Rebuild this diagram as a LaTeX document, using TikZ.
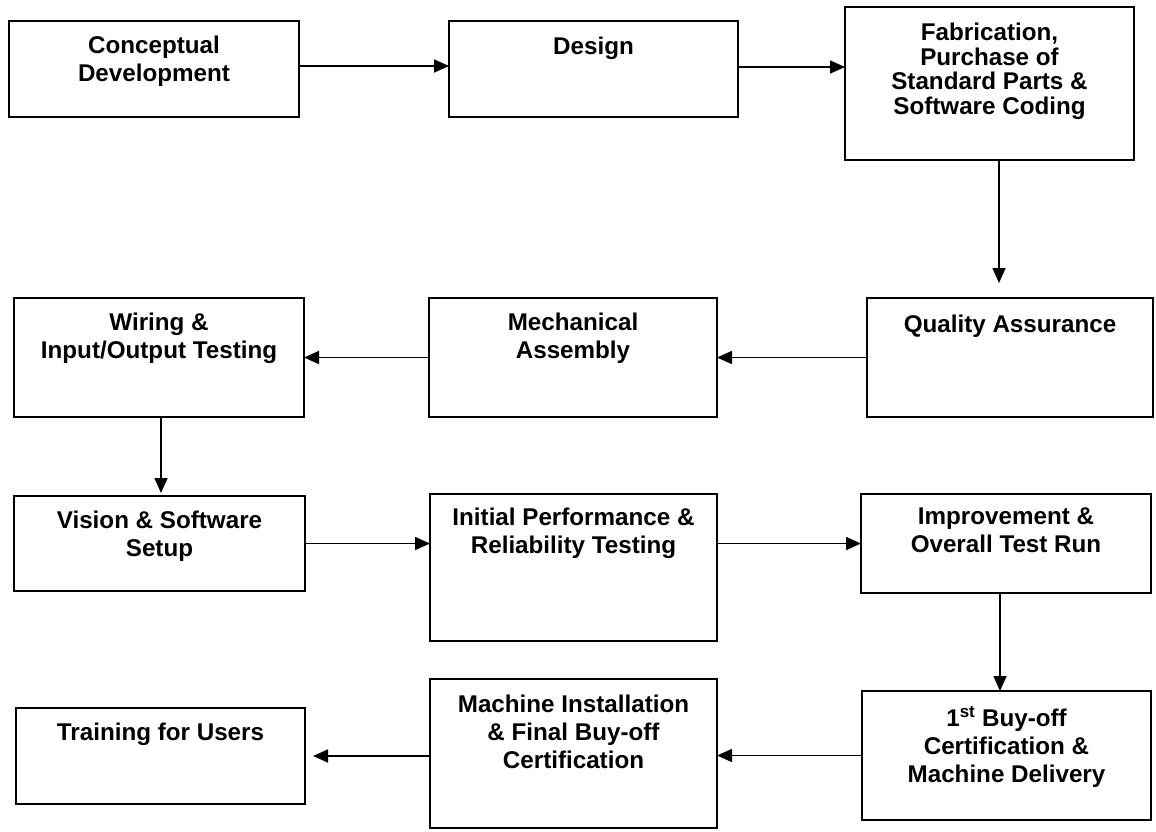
\documentclass[tikz,border=0pt]{standalone}
\usepackage{fontspec}
\setmainfont{Liberation Sans}
\usetikzlibrary{arrows.meta}

\begin{document}
\begin{tikzpicture}[x=1pt,y=1pt,
  box/.style={draw, line width=1.6pt, inner sep=0pt, outer sep=0pt, anchor=north west},
  txt/.style={anchor=north, inner sep=0pt, align=center,
    font=\bfseries\fontsize{24.2}{28}\selectfont},
  arr/.style={line width=1.6pt, -{Triangle[length=15pt,width=13pt]}}]

\useasboundingbox (0,0) rectangle (1156,-831);

% stage boxes (top-left corner, width, height)
\node[box, minimum width=290, minimum height=96]  (concept)  at (9,-21)   {};
\node[box, minimum width=289, minimum height=96]  (design)   at (449,-21) {};
\node[box, minimum width=289, minimum height=153] (fab)      at (845,-7)  {};
\node[box, minimum width=286, minimum height=119] (qa)       at (867,-298) {};
\node[box, minimum width=288, minimum height=119] (mech)     at (429,-298) {};
\node[box, minimum width=290, minimum height=119] (wiring)   at (14,-298) {};
\node[box, minimum width=291, minimum height=95]  (vision)   at (14,-496) {};
\node[box, minimum width=287, minimum height=147] (initial)  at (430,-494) {};
\node[box, minimum width=290, minimum height=99]  (improve)  at (861,-494) {};
\node[box, minimum width=289, minimum height=129] (buyoff)   at (862,-691) {};
\node[box, minimum width=287, minimum height=149] (install)  at (430,-679) {};
\node[box, minimum width=289, minimum height=96]  (training) at (16,-708) {};

% stage titles, set near the top of each box
\node[txt] (tconcept) at ([yshift=-15pt]concept.north) {Conceptual\\Development};
\node[txt] (tdesign)  at ([yshift=-16pt]design.north) {Design};
\node[txt, font=\bfseries\fontsize{24.2}{24.5}\selectfont] (tfab) at ([yshift=-16pt]fab.north)
  {Fabrication,\\Purchase of\\Standard Parts \&\\Software Coding};
\node[txt] (tqa)      at ([yshift=-17pt]qa.north) {Quality Assurance};
\node[txt] (tmech)    at ([yshift=-15pt]mech.north) {Mechanical\\Assembly};
\node[txt] (twiring)  at ([yshift=-15pt]wiring.north) {Wiring \&\\Input/Output Testing};
\node[txt] (tvision)  at ([yshift=-15pt]vision.north) {Vision \& Software\\Setup};
\node[txt] (tinitial) at ([yshift=-14pt]initial.north) {Initial Performance \&\\Reliability Testing};
\node[txt] (timprove) at ([yshift=-14pt]improve.north) {Improvement \&\\Overall Test Run};
\node[txt] (tbuyoff)  at ([yshift=-15pt]buyoff.north) {1\textsuperscript{st} Buy-off\\Certification \&\\Machine Delivery};
\node[txt] (tinstall) at ([yshift=-16pt]install.north) {Machine Installation\\\& Final Buy-off\\Certification};
\node[txt] (ttraining) at ([yshift=-15pt]training.north) {Training for Users};

% flow connectors
\draw[arr] ([yshift=3pt]concept.east) -- ([yshift=3pt]design.west);
\draw[arr] ([yshift=2pt]design.east) -- ([yshift=2pt]design.east -| fab.west);
\draw[arr, shorten >=15pt] ([xshift=9.5pt]fab.south) -- ([xshift=9.5pt]fab.south |- qa.north);
\draw[arr] (qa.west) -- (mech.east);
\draw[arr] (mech.west) -- (wiring.east);
\draw[arr, shorten >=3pt] ([xshift=2pt]wiring.south) -- ([xshift=2pt]wiring.south |- vision.north);
\draw[arr] (vision.east) -- (vision.east -| initial.west);
\draw[arr] (initial.east |- improve.west) -- (improve.west);
\draw[arr] ([xshift=-6pt]improve.south) -- ([xshift=-6pt]improve.south |- buyoff.north);
\draw[arr] (buyoff.west) -- (buyoff.west -| install.east);
\draw[arr, shorten >=8pt] (install.west |- training.east) -- (training.east);
\end{tikzpicture}
\end{document}
